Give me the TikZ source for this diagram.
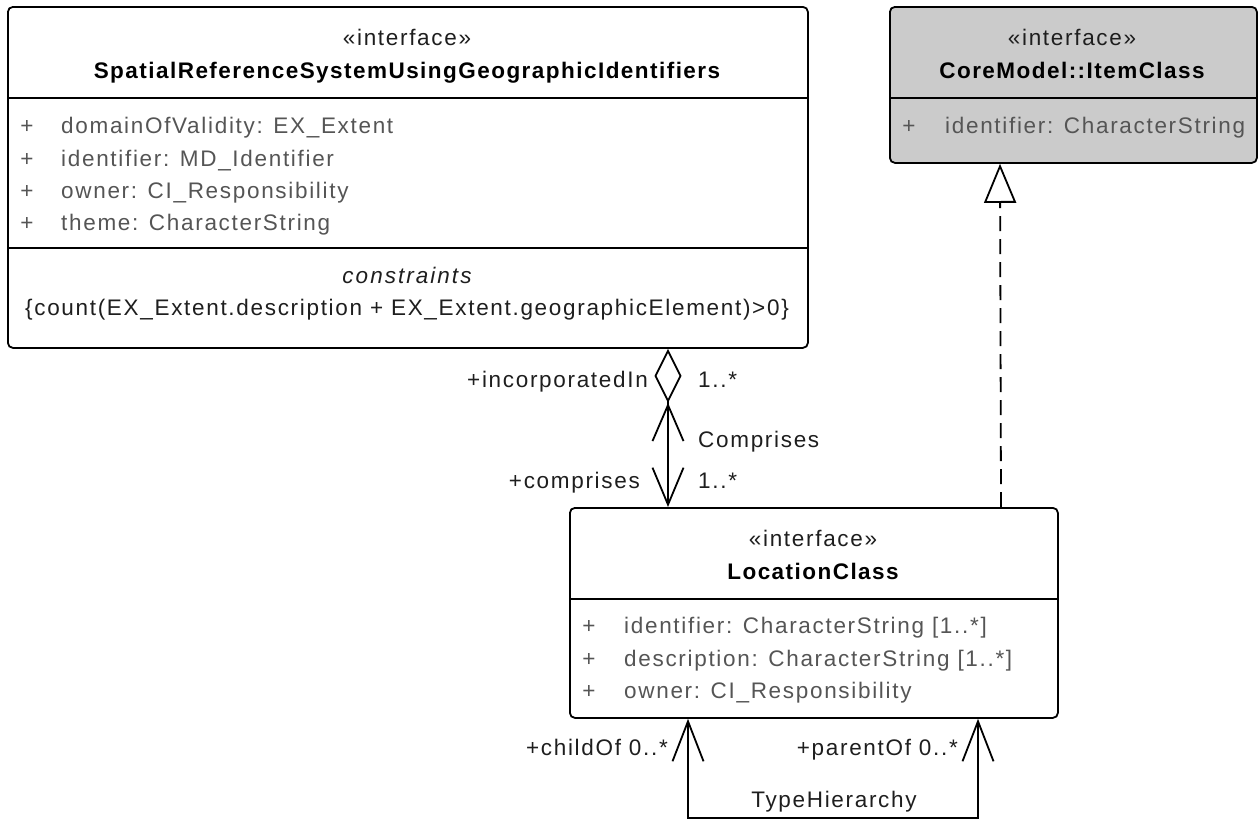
\documentclass[tikz,border=0pt]{standalone}
\usepackage{fontspec}
\setmainfont{Liberation Sans}[LetterSpace=7.5, BoldFeatures={LetterSpace=6.5}, ItalicFeatures={LetterSpace=9}]
\usetikzlibrary{arrows.meta}
\definecolor{attrgray}{HTML}{555555}
\definecolor{boxgray}{HTML}{CBCBCB}
\definecolor{labelblack}{HTML}{1E1E1E}
\tikzset{
  umlbox/.style={draw=black, line width=1.8pt, rounded corners=5pt, inner sep=0pt, anchor=north west},
  divider/.style={line width=1.6pt},
  txt/.style={inner sep=0pt, font=\fontsize{22.5}{26}\selectfont},
  stereo/.style={txt, anchor=base, text=labelblack},
  title/.style={txt, anchor=base, font=\fontsize{22.5}{26}\selectfont\bfseries, text=black},
  plus/.style={txt, anchor=base, text=attrgray},
  attr/.style={txt, anchor=base west, text=attrgray},
  lbl/.style={txt, text=labelblack},
  conn/.style={line width=1.8pt, draw=black},
}
\begin{document}
\begin{tikzpicture}[x=1pt,y=-1pt]
\useasboundingbox (0,0) rectangle (1260,819);
% ---------- SRS box
\node[umlbox, fill=white, minimum width=800pt, minimum height=341pt] (srs) at (7,6) {};
\draw[divider] (srs.north west) ++(0,92) -- ++(800,0);
\draw[divider] (srs.north west) ++(0,242) -- ++(800,0);
\node[stereo] (srsst) at (407,45) {«interface»};
\node[title] (srsname) at (407,78) {SpatialReferenceSystemUsingGeographicIdentifiers};
\node[plus] (sp1) at (27,133) {+};
\node[plus] (sp2) at (27,166) {+};
\node[plus] (sp3) at (27,198) {+};
\node[plus] (sp4) at (27,230) {+};
\node[attr] (sa1) at (61,133) {domainOfValidity: EX\_Extent};
\node[attr] (sa2) at (61,166) {identifier: MD\_Identifier};
\node[attr] (sa3) at (61,198) {owner: CI\_Responsibility};
\node[attr] (sa4) at (61,230) {theme: CharacterString};
\node[txt, anchor=base, text=labelblack, font=\fontsize{22.5}{26}\selectfont\itshape] (scons) at (407,283) {constraints};
\node[txt, anchor=base, text=labelblack] (sformula) at (407,315) {\{count(EX\_Extent.description + EX\_Extent.geographicElement)>0\}};
% ---------- ItemClass box
\node[umlbox, fill=boxgray, minimum width=367pt, minimum height=156pt] (item) at (889,6) {};
\draw[divider] (item.north west) ++(0,92) -- ++(367,0);
\node[stereo] (itst) at (1072,45) {«interface»};
\node[title] (itname) at (1072,78) {CoreModel::ItemClass};
\node[plus] (ip1) at (909,133) {+};
\node[attr] (ia1) at (945,133) {identifier: CharacterString};
% ---------- LocationClass box
\node[umlbox, fill=white, minimum width=488pt, minimum height=210pt] (loc) at (569,507) {};
\draw[divider] (loc.north west) ++(0,92) -- ++(488,0);
\node[stereo] (lst) at (813,546) {«interface»};
\node[title] (lname) at (813,579) {LocationClass};
\node[plus] (lp1) at (589,633) {+};
\node[plus] (lp2) at (589,666) {+};
\node[plus] (lp3) at (589,698) {+};
\node[attr] (la1) at (624,633) {identifier: CharacterString [1..*]};
\node[attr] (la2) at (624,666) {description: CharacterString [1..*]};
\node[attr] (la3) at (624,698) {owner: CI\_Responsibility};
% ---------- Comprises association
\draw[conn, {Diamond[open,length=54pt,width=27pt,line width=1.8pt]Straight Barb[length=36pt,width=31pt,line width=1.8pt]}-{Straight Barb[length=37pt,width=31pt,line width=1.8pt]}]
  ([xshift=661pt]srs.south west) -- ([xshift=99pt]loc.north west);
\node[lbl, anchor=base east] (lincorp) at (648,387) {+incorporatedIn};
\node[lbl, anchor=base west] (lm1) at (698,387) {1..*};
\node[lbl, anchor=base west] (lcomp) at (698,447) {Comprises};
\node[lbl, anchor=base east] (lcomprises) at (640,488) {+comprises};
\node[lbl, anchor=base west] (lm2) at (698,488) {1..*};
% ---------- Realization
\draw[conn, dash pattern=on 15pt off 8pt, -{Triangle[open,length=39pt,width=32pt,line width=1.8pt]}]
  ([xshift=432pt]loc.north west) -- ([xshift=111pt]item.south west);
% ---------- TypeHierarchy
\draw[conn, {Straight Barb[length=40pt,width=31pt,line width=1.8pt]}-{Straight Barb[length=40pt,width=31pt,line width=1.8pt]}]
  ([xshift=119pt]loc.south west) -- ++(0,99) -| ([xshift=409pt]loc.south west);
\node[lbl, anchor=base east] (lchild) at (668,755) {+childOf 0..*};
\node[lbl, anchor=base east] (lparent) at (958,755) {+parentOf 0..*};
\node[lbl, anchor=base] (lth) at (834,807) {TypeHierarchy};
\end{tikzpicture}
\end{document}
